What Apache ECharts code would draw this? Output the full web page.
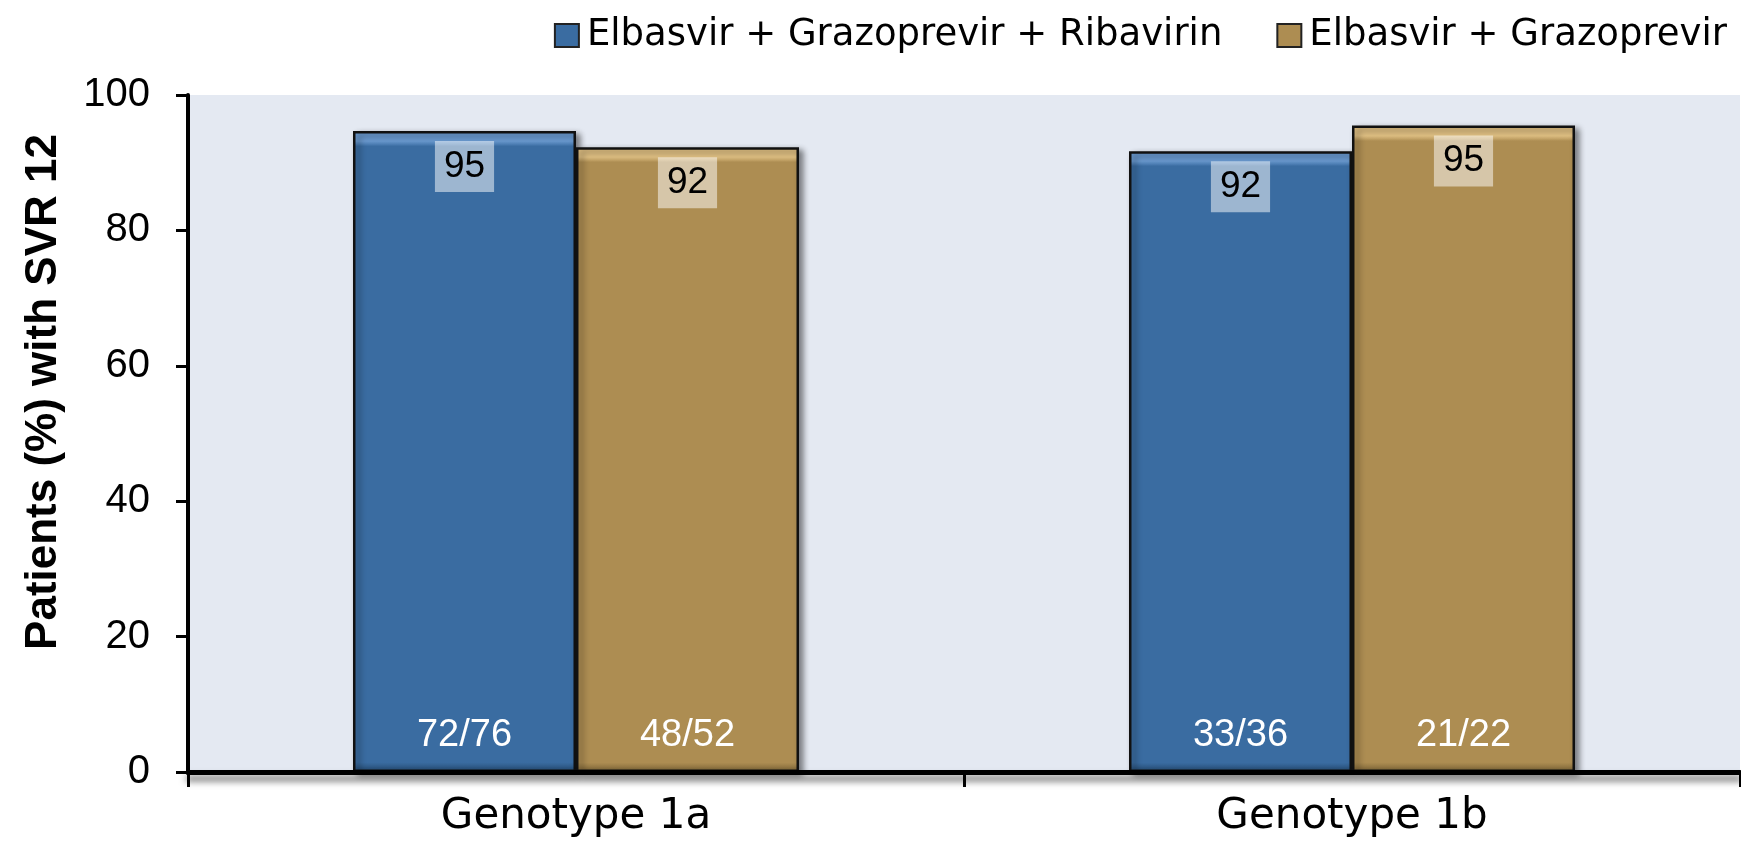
<!DOCTYPE html>
<html>
<head>
<meta charset="utf-8">
<script src="https://cdn.jsdelivr.net/npm/echarts@6/dist/echarts.min.js"></script>
<style>
html,body{margin:0;padding:0;background:#fff;}
#chart{width:1741px;height:842px;}
</style>
</head>
<body>
<div id="chart"></div>
<script>
// ---- data ----
const categories = ['Genotype 1a', 'Genotype 1b'];
const seriesNames = ['Elbasvir + Grazoprevir + Ribavirin', 'Elbasvir + Grazoprevir'];
const ebrGzrRbvValues = [94.7, 91.7];
const ebrGzrValues = [92.3, 95.5];
const ebrGzrRbvPctLabels = ['95', '92'];
const ebrGzrPctLabels = ['92', '95'];
const ebrGzrRbvCounts = ['72/76', '33/36'];
const ebrGzrCounts = ['48/52', '21/22'];
const yMin = 0, yMax = 100, yInterval = 20;
const yAxisTitle = 'Patients (%) with SVR 12';

// ---- styles ----
function bevel(light, base, dark) {
  return new echarts.graphic.LinearGradient(0, 0, 0, 1, [
    {offset: 0, color: light},
    {offset: 0.016, color: light},
    {offset: 0.024, color: base},
    {offset: 0.985, color: base},
    {offset: 1, color: dark}
  ]);
}
const blueFill = bevel('#6a9ad0', '#3a6ca1', '#24496f');
const goldFill = bevel('#e0c083', '#ad8d52', '#7a6236');

const barCommon = {
  type: 'bar',
  barWidth: 223,
  barGap: '0%',
  xAxisIndex: 0,
  yAxisIndex: 0,
  z: 2
};
const topLabel = (labels) => ({
  show: true,
  position: 'insideTop',
  distance: 10,
  formatter: p => labels[p.dataIndex],
  fontFamily: 'Liberation Sans, Arial, sans-serif',
  fontSize: 37,
  lineHeight: 39,
  color: '#000',
  backgroundColor: 'rgba(255,255,255,0.5)',
  padding: [6, 9, 6, 9]
});
const bottomLabel = (labels) => ({
  show: true,
  position: 'insideBottom',
  distance: 17,
  formatter: p => labels[p.dataIndex],
  fontFamily: 'Liberation Sans, Arial, sans-serif',
  fontSize: 38,
  color: '#fff'
});
const itemStyleOf = (fill) => ({
  color: fill,
  borderColor: '#111',
  borderWidth: 2.5,
  shadowColor: 'rgba(0,0,0,0.45)',
  shadowBlur: 6,
  shadowOffsetX: 4,
  shadowOffsetY: 3
});

const chart = echarts.init(document.getElementById('chart'), null, {renderer: 'canvas'});
chart.setOption({
  animation: false,
  backgroundColor: '#ffffff',
  grid: {
    left: 188, right: 1, top: 95, bottom: 70,
    show: true, backgroundColor: '#e4e9f2', borderWidth: 0
  },
  legend: {
    data: seriesNames,
    right: 9,
    top: 12,
    icon: 'rect',
    itemWidth: 24,
    itemHeight: 23,
    itemGap: 54,
    itemStyle: {borderColor: '#222', borderWidth: 2, shadowBlur: 0, shadowOffsetX: 0, shadowOffsetY: 0},
    textStyle: {
      fontFamily: 'DejaVu Sans, sans-serif',
      fontSize: 37,
      color: '#000',
      padding: [0, 0, 0, 3]
    }
  },
  graphic: [{
    type: 'text',
    x: 44,
    y: 392,
    rotation: Math.PI / 2,
    style: {
      text: yAxisTitle,
      fontFamily: 'Liberation Sans, Arial, sans-serif',
      fontWeight: 'bold',
      fontSize: 44,
      fill: '#000',
      align: 'center',
      verticalAlign: 'middle',
      textAlign: 'center',
      textVerticalAlign: 'middle'
    }
  }],
  xAxis: [{
    type: 'category',
    data: categories,
    axisLine: {
      show: true,
      lineStyle: {color: '#000', width: 5, shadowColor: 'rgba(0,0,0,0.6)', shadowBlur: 7, shadowOffsetY: 6}
    },
    axisTick: {show: true, alignWithLabel: false, length: 15, lineStyle: {color: '#000', width: 3}},
    axisLabel: {
      fontFamily: 'DejaVu Sans, sans-serif',
      fontSize: 42,
      color: '#000',
      margin: 24
    },
    splitLine: {show: false},
    z: 5
  }, {
    type: 'category',
    data: categories,
    show: false
  }],
  yAxis: {
    type: 'value',
    min: yMin,
    max: yMax,
    interval: yInterval,
    axisLine: {show: true, lineStyle: {color: '#000', width: 4}},
    axisTick: {show: true, length: 12, lineStyle: {color: '#000', width: 3}},
    axisLabel: {
      fontFamily: 'Liberation Sans, Arial, sans-serif',
      fontSize: 40,
      color: '#000',
      margin: 38
    },
    splitLine: {show: false},
    z: 5
  },
  series: [
    Object.assign({}, barCommon, {
      name: seriesNames[0],
      data: ebrGzrRbvValues,
      itemStyle: itemStyleOf(blueFill),
      label: topLabel(ebrGzrRbvPctLabels)
    }),
    Object.assign({}, barCommon, {
      name: seriesNames[1],
      data: ebrGzrValues,
      itemStyle: itemStyleOf(goldFill),
      label: topLabel(ebrGzrPctLabels)
    }),
    {
      type: 'bar', name: 'counts-a', xAxisIndex: 1, yAxisIndex: 0,
      barWidth: 223, barGap: '0%', z: 3, silent: true,
      data: ebrGzrRbvValues,
      itemStyle: {color: 'rgba(0,0,0,0)'},
      label: bottomLabel(ebrGzrRbvCounts)
    },
    {
      type: 'bar', name: 'counts-b', xAxisIndex: 1, yAxisIndex: 0,
      barWidth: 223, barGap: '0%', z: 3, silent: true,
      data: ebrGzrValues,
      itemStyle: {color: 'rgba(0,0,0,0)'},
      label: bottomLabel(ebrGzrCounts)
    }
  ]
});
</script>
</body>
</html>
